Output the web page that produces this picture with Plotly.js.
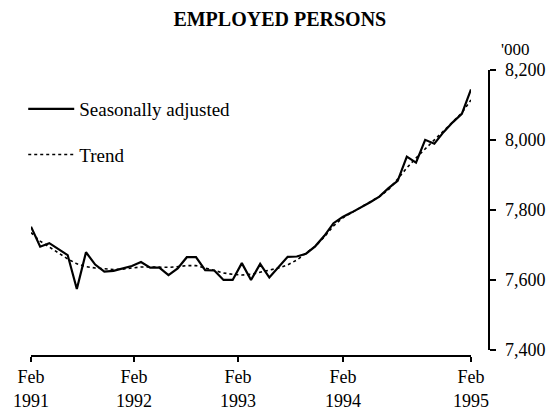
<!DOCTYPE html>
<html>
<head>
<meta charset="utf-8">
<script src="https://cdn.plot.ly/plotly-3.0.1.min.js"></script>
<style>html,body{margin:0;padding:0;background:#fff;}#chart{width:553px;height:409px;}</style>
</head>
<body>
<div id="chart"></div>
<script>
// Monthly, Feb 1991 .. Feb 1995 (49 months), thousands
const monthIndex = Array.from({length: 49}, (_, i) => i);
const seasonallyAdjusted = [
  7752, 7695, 7705, 7688, 7671, 7574, 7679, 7644, 7624, 7626, 7634, 7640,
  7651, 7635, 7635, 7614, 7633, 7665, 7665, 7628, 7627, 7600, 7600, 7648,
  7600, 7646, 7607, 7636, 7666, 7667, 7675, 7696, 7726, 7762, 7780, 7793,
  7807, 7822, 7838, 7862, 7883, 7952, 7935, 8000, 7989, 8022, 8050, 8074,
  8144
];
const trend = [
  7735, 7711, 7694, 7677, 7660, 7646, 7638, 7634, 7631, 7630, 7631, 7634,
  7637, 7637, 7636, 7636, 7638, 7641, 7641, 7634, 7627, 7620, 7616, 7614,
  7616, 7621, 7628, 7634, 7643, 7657, 7676, 7696, 7723, 7754, 7777, 7793,
  7807, 7823, 7838, 7858, 7888, 7920, 7948, 7975, 8000, 8025, 8051, 8077,
  8114
];
const xTickPositions = [0, 11.24, 22.58, 34.04, 48];
const xTickLabels = ['Feb<br>1991', 'Feb<br>1992', 'Feb<br>1993', 'Feb<br>1994', 'Feb<br>1995'];
const yTickValues = [7400, 7600, 7800, 8000, 8200];
const yTickLabels = ['7,400', '7,600', '7,800', '8,000', '8,200'];

const serif = 'Liberation Serif, Times New Roman, serif';

const traces = [
  {x: monthIndex, y: trend, name: 'Trend', type: 'scatter', mode: 'lines',
   line: {color: '#000', width: 1.6, dash: 'dot'}, legendgroup: 'b', legendrank: 2},
  {x: monthIndex, y: seasonallyAdjusted, name: 'Seasonally adjusted', type: 'scatter', mode: 'lines',
   line: {color: '#000', width: 2.2}, legendgroup: 'a', legendrank: 1}
];

const layout = {
  width: 553, height: 409,
  margin: {l: 31, r: 65, t: 60, b: 54, autoexpand: false},
  paper_bgcolor: '#fff', plot_bgcolor: '#fff',
  font: {family: serif, color: '#000', size: 18},
  title: {text: 'EMPLOYED PERSONS', font: {family: serif, size: 20, weight: 'bold', color: '#000'},
          x: 0.506, xref: 'container', xanchor: 'center', y: 0.953, yref: 'container', yanchor: 'middle',
          automargin: false},
  showlegend: true,
  legend: {x: 0.042, xref: 'container', y: 0.780, yref: 'container', xanchor: 'left', yanchor: 'top',
           bgcolor: 'rgba(0,0,0,0)', font: {family: serif, size: 19, color: '#000'},
           traceorder: 'grouped', tracegroupgap: 18, itemwidth: 46},
  xaxis: {range: [0, 48], domain: [0, 0.9628], anchor: 'free', position: 0,
          showgrid: false, zeroline: false, showline: true, linecolor: '#000', linewidth: 1.5,
          ticks: 'outside', ticklen: 5, tickwidth: 1.5, tickcolor: '#000',
          tickmode: 'array', tickvals: xTickPositions, ticktext: xTickLabels,
          tickfont: {family: serif, size: 18, color: '#000'}},
  yaxis: {range: [7400, 8200], domain: [0.01695, 0.96678], anchor: 'free', position: 1, side: 'right',
          showgrid: false, zeroline: false, showline: true, linecolor: '#000', linewidth: 1.5,
          ticks: 'outside', ticklen: 6, tickwidth: 1.5, tickcolor: '#000',
          tickmode: 'array', tickvals: yTickValues, ticktext: yTickLabels, ticklabelstandoff: 6,
          tickfont: {family: serif, size: 18, color: '#000'}},
  annotations: [
    {text: "'000", xref: 'paper', yref: 'paper', x: 1.025, y: 0.997, xanchor: 'left', yanchor: 'bottom',
     showarrow: false, font: {family: serif, size: 17, color: '#000'}}
  ]
};

Plotly.newPlot('chart', traces, layout, {displayModeBar: false, staticPlot: true});
</script>
</body>
</html>
